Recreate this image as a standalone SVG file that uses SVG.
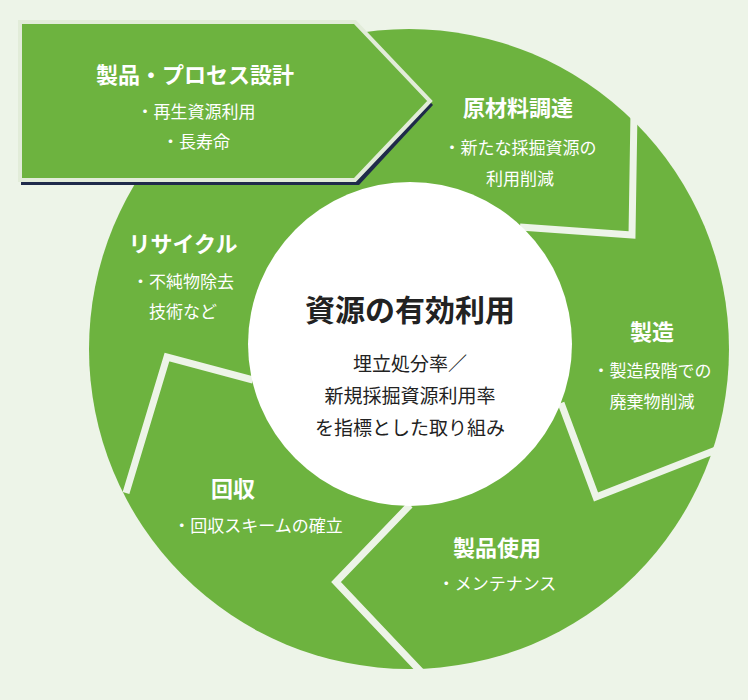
<svg xmlns="http://www.w3.org/2000/svg" width="748" height="700" viewBox="0 0 748 700">
<style>
.h{font-family:"Noto Sans CJK JP",sans-serif;font-weight:bold;font-size:22px;fill:#fff;text-anchor:middle;dominant-baseline:central}
.s{font-family:"Noto Sans CJK JP",sans-serif;font-size:17px;fill:#fff;text-anchor:middle;dominant-baseline:central}
.c{font-family:"Noto Sans CJK JP",sans-serif;font-size:19px;fill:#222;text-anchor:middle;dominant-baseline:central}
.sep{fill:none;stroke:#edf4e8;stroke-width:7;stroke-linejoin:miter}
</style>
<rect width="748" height="700" fill="#edf4e8"/>
<g id="ring"><circle cx="409" cy="349" r="320" fill="#6db33f"/></g>
<g id="connectors">
<polyline class="sep" points="648,120 634,112 632,235 520,227"/>
<polyline class="sep" points="561,403 596,497 716,450"/>
<polyline class="sep" points="410,505 336,582 424,675"/>
<polyline class="sep" points="253,380 167,357 126,493"/>
</g>
<g id="center"><circle cx="410" cy="344" r="162" fill="#fff"/>
<text x="410" y="308" class="c" style="font-size:30px;font-weight:bold">資源の有効利用</text>
<text x="410" y="362" class="c">埋立処分率／</text>
<text x="410" y="394" class="c">新規採掘資源利用率</text>
<text x="410" y="426" class="c">を指標とした取り組み</text></g>
<g id="design">
<polygon points="23,27 359,27 433,105 359,185 21,185" fill="#1f2a4a"/>
<polygon points="20,22 355,22 430,101 355,180 20,180" fill="#6db33f" stroke="#e2ecd9" stroke-width="4"/>
<text x="195" y="73" class="h">製品・プロセス設計</text>
<text x="196" y="110" class="s">・再生資源利用</text>
<text x="196" y="140" class="s">・長寿命</text></g>
<g id="procure"><text x="518" y="106" class="h">原材料調達</text>
<text x="520" y="146" class="s">・新たな採掘資源の</text>
<text x="520" y="177" class="s">利用削減</text></g>
<g id="manufacture"><text x="652" y="330" class="h">製造</text>
<text x="652" y="369" class="s">・製造段階での</text>
<text x="652" y="400" class="s">廃棄物削減</text></g>
<g id="use"><text x="497" y="546" class="h">製品使用</text>
<text x="497" y="582" class="s">・メンテナンス</text></g>
<g id="collect"><text x="233" y="487" class="h">回収</text>
<text x="258" y="524" class="s">・回収スキームの確立</text></g>
<g id="recycle"><text x="183" y="242" class="h">リサイクル</text>
<text x="183" y="280" class="s">・不純物除去</text>
<text x="183" y="310" class="s">技術など</text></g>
</svg>
